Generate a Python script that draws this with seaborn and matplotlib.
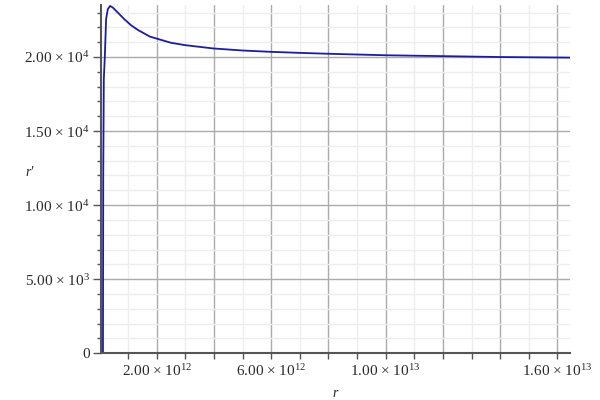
import numpy as np
import pandas as pd
import seaborn as sns
import matplotlib
matplotlib.use("agg")
import matplotlib.pyplot as plt
from matplotlib.ticker import MultipleLocator, FuncFormatter

# values (r in metres, r' in m/s)
r_vals = [0.12e12, 0.13e12, 0.15e12, 0.185e12, 0.23e12, 0.29e12, 0.37e12,
          0.465e12, 0.64e12, 0.87e12, 1.1e12, 1.34e12, 1.76e12, 2.5e12,
          3.0e12, 3.97e12, 5.0e12, 6.0e12, 7.0e12, 8.0e12, 10.0e12,
          12.0e12, 14.0e12, 16.44e12]
rdot_vals = [0, 12000, 18490, 20000, 22550, 23230, 23450,
             23340, 23000, 22550, 22150, 21830, 21380, 20960,
             20800, 20580, 20440, 20350, 20280, 20220, 20120,
             20060, 20000, 19960]

x_labels = {2: "2.00 × 10$^{12}$", 6: "6.00 × 10$^{12}$",
            10: "1.00 × 10$^{13}$", 16: "1.60 × 10$^{13}$"}
y_labels = {0: "0", 5000: "5.00 × 10$^{3}$", 10000: "1.00 × 10$^{4}$",
            15000: "1.50 × 10$^{4}$", 20000: "2.00 × 10$^{4}$"}

df = pd.DataFrame({"r": r_vals, "rdot": rdot_vals})

sns.set_theme(style="white")
plt.rcParams["font.family"] = ["Liberation Serif", "DejaVu Serif"]
plt.rcParams["mathtext.fontset"] = "custom"
plt.rcParams["mathtext.rm"] = "Liberation Serif"
plt.rcParams["mathtext.it"] = "Liberation Serif:italic"
plt.rcParams["mathtext.default"] = "rm"

fig = plt.figure(figsize=(6, 4), dpi=100)
ax = fig.add_axes([0.168, 0.117, 0.782, 0.87])

sns.lineplot(data=df, x="r", y="rdot", ax=ax, color="#1c1ca0", linewidth=1.3)

ax.set_xlim(0.045e12, 16.44e12)
ax.set_ylim(0, 23500)

ax.xaxis.set_major_locator(MultipleLocator(2e12))
ax.xaxis.set_minor_locator(MultipleLocator(1e12))
ax.yaxis.set_major_locator(MultipleLocator(5000))
ax.yaxis.set_minor_locator(MultipleLocator(1000))

ax.xaxis.set_major_formatter(FuncFormatter(lambda v, p: x_labels.get(int(round(v / 1e12)), "")))
ax.yaxis.set_major_formatter(FuncFormatter(lambda v, p: y_labels.get(int(round(v)), "")))

ax.grid(which="major", color="#ababab", linewidth=1.0)
ax.grid(which="minor", color="#ededed", linewidth=1.0)
ax.set_axisbelow(True)

for s in ["top", "right"]:
    ax.spines[s].set_visible(False)
for s in ["left", "bottom"]:
    ax.spines[s].set_color("#555555")
    ax.spines[s].set_linewidth(1.5)

ax.tick_params(axis="x", which="both", direction="out", length=4, width=1,
               color="#555555", labelsize=11, labelcolor="#2a2a2a", bottom=True, pad=3)
ax.tick_params(axis="y", which="major", direction="out", length=6, width=1,
               color="#555555", labelsize=11, labelcolor="#2a2a2a", left=True, pad=2)
ax.tick_params(axis="y", which="minor", direction="out", length=3, width=1,
               color="#555555", left=True)

ax.set_xlabel("r", fontstyle="italic", fontsize=10, labelpad=6)
ax.set_ylabel("r'", fontstyle="italic", fontsize=10, rotation=0)
ax.yaxis.set_label_coords(-0.151, 0.5)

fig.savefig("out.png", dpi=100)
